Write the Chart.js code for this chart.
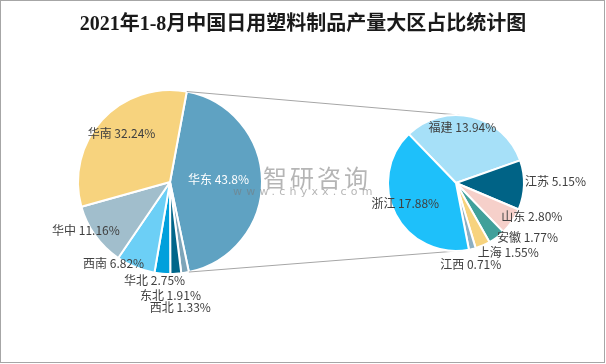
<!DOCTYPE html>
<html><head><meta charset="utf-8">
<script src="https://cdn.jsdelivr.net/npm/chart.js@4/dist/chart.umd.min.js"></script>
<style>
html,body{margin:0;padding:0;background:#fff;}
#wrap{position:relative;width:606px;height:364px;overflow:hidden;background:#fff;}
#frame{position:absolute;left:0;top:0;width:605px;height:363px;box-sizing:border-box;border:1px solid #A6A6A6;pointer-events:none;}
canvas{position:absolute;left:0;top:0;}
#title{position:absolute;left:0;width:606px;top:13px;height:20px;line-height:20px;text-align:center;font-family:"Liberation Serif","Noto Sans CJK SC";font-size:20px;font-weight:bold;color:#1a1a1a;white-space:nowrap;}
#wm1{position:absolute;left:263px;top:159px;font-family:"Noto Sans CJK SC";font-size:24px;letter-spacing:3px;color:rgba(120,120,120,0.55);white-space:nowrap;}
#wm2{position:absolute;left:233px;top:185px;font-family:"DejaVu Sans";font-size:11px;letter-spacing:4.2px;color:rgba(120,120,120,0.55);white-space:nowrap;}
</style>
</head><body>
<div id="wrap">
  <canvas id="c1" width="340" height="364"></canvas>
  <div id="wm1">智研咨询</div>
  <div id="wm2">www.chyxx.com</div>
  <canvas id="c2" width="606" height="364"></canvas>
  <div id="title">2021年1-8月中国日用塑料制品产量大区占比统计图</div>
  <div id="frame"></div>
</div>
<script>
// ---- data ----
const leftLabels = ['华东','西北','东北','华北','西南','华中','华南'];
const leftValues = [43.8, 1.33, 1.91, 2.75, 6.82, 11.16, 32.24];
const leftDecimals = [1, 2, 2, 2, 2, 2, 2];
const rightLabels = ['福建','江苏','山东','安徽','上海','江西','浙江'];
const rightValues = [13.94, 5.15, 2.80, 1.77, 1.55, 0.71, 17.88];
const rightDecimals = [2, 2, 2, 2, 2, 2, 2];

// ---- styles ----
const leftColors = ['#5FA2C2','#7DA5B9','#00668A','#00A0DC','#6CCFF6','#A1BECC','#F7D37E'];
const rightColors = ['#A6E0F8','#006386','#F6D0CA','#40A09A','#F7D37E','#8CAFC3','#1EC0FA'];
const leftTextColors = ['#ffffff','#404040','#404040','#404040','#404040','#404040','#404040'];
const rightTextColors = ['#404040','#404040','#404040','#404040','#404040','#404040','#404040'];
// label anchor relative to pie centre, in units of the pie radius
const leftLabelPos = [[0.527,-0.032],[0.113,1.366],[0.005,1.237],[-0.167,1.075],[-0.613,0.882],[-0.914,0.527],[-0.527,-0.527]];
const rightLabelPos = [[0.094,-0.812],[1.464,-0.029],[1.116,0.493],[1.051,0.797],[0.768,1.014],[0.217,1.203],[-0.746,0.304]];
const FONT = '12px "Noto Sans CJK SC", "Open Sans", sans-serif';

function labelPlugin(id, names, values, decimals, pos, colors) {
  return {
    id,
    afterDatasetsDraw(chart) {
      const meta = chart.getDatasetMeta(0);
      const ctx = chart.ctx;
      ctx.save();
      ctx.font = FONT;
      ctx.textAlign = 'center';
      ctx.textBaseline = 'middle';
      meta.data.forEach((arc, i) => {
        const r = arc.outerRadius;
        ctx.fillStyle = colors[i];
        ctx.fillText(names[i] + ' ' + values[i].toFixed(decimals[i]) + '%', arc.x + pos[i][0] * r, arc.y + pos[i][1] * r);
      });
      ctx.restore();
    }
  };
}

const chart1 = new Chart(document.getElementById('c1'), {
  type: 'pie',
  data: { labels: leftLabels, datasets: [{ data: leftValues, backgroundColor: leftColors, borderColor: '#ffffff', borderWidth: 2 }] },
  options: {
    responsive: false, animation: false, events: [], rotation: 10.5,
    layout: { padding: { left: 77, right: 77, top: 89, bottom: 89 } },
    plugins: { legend: { display: false }, tooltip: { enabled: false }, title: { display: false } }
  },
  plugins: [labelPlugin('lbl1', leftLabels, leftValues, leftDecimals, leftLabelPos, leftTextColors)]
});

const connectPlugin = {
  id: 'connect',
  beforeDatasetsDraw(chart) {
    const a = chart1.getDatasetMeta(0).data[0];
    const b = chart.getDatasetMeta(0).data[0];
    const rad = d => d * Math.PI / 180;
    const topB = rad(-90 + 3), botB = rad(-90 + 172);
    const ctx = chart.ctx;
    ctx.save();
    ctx.strokeStyle = '#A6A6A6';
    ctx.lineWidth = 1;
    ctx.beginPath();
    ctx.moveTo(a.x + a.outerRadius * Math.cos(a.startAngle), a.y + a.outerRadius * Math.sin(a.startAngle));
    ctx.lineTo(b.x + b.outerRadius * Math.cos(topB), b.y + b.outerRadius * Math.sin(topB));
    ctx.moveTo(a.x + a.outerRadius * Math.cos(a.endAngle), a.y + a.outerRadius * Math.sin(a.endAngle));
    ctx.lineTo(b.x + b.outerRadius * Math.cos(botB), b.y + b.outerRadius * Math.sin(botB));
    ctx.stroke();
    ctx.restore();
  }
};

const chart2 = new Chart(document.getElementById('c2'), {
  type: 'pie',
  data: { labels: rightLabels, datasets: [{ data: rightValues, backgroundColor: rightColors, borderColor: '#ffffff', borderWidth: 2 }] },
  options: {
    responsive: false, animation: false, events: [], rotation: 316,
    layout: { padding: { left: 387, right: 81, top: 114, bottom: 112 } },
    plugins: { legend: { display: false }, tooltip: { enabled: false }, title: { display: false } }
  },
  plugins: [connectPlugin, labelPlugin('lbl2', rightLabels, rightValues, rightDecimals, rightLabelPos, rightTextColors)]
});
</script>
</body></html>
